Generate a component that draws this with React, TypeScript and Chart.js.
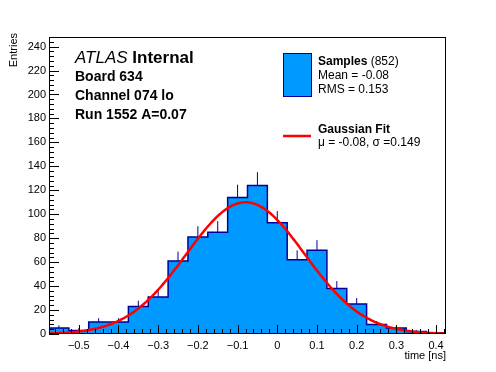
import React, { useEffect, useRef } from "react";
import { Chart, registerables } from "chart.js";

Chart.register(...registerables);

// ---- data ----
const binLow = -0.575;
const binWidth = 0.05;
const binCounts = [5, 3, 10, 10, 23, 31, 61, 81, 85, 114, 124, 93, 62, 70, 38, 25, 8, 5, 2, 1];
const xTickValues = [-0.5, -0.4, -0.3, -0.2, -0.1, 0, 0.1, 0.2, 0.3, 0.4];
const yTickValues = [0, 20, 40, 60, 80, 100, 120, 140, 160, 180, 200, 220, 240];
const xMin = -0.575;
const xMax = 0.425;
const yMin = 0;
const yMax = 248;
const fitMean = -0.08;
const fitSigma = 0.149;
const fitConstant = 110;
const infoLines = ["Board 634", "Channel 074 lo", "Run 1552 A=0.07"];
const sampleEntries = "(852)";
const sampleStats = ["Mean = -0.08", "RMS = 0.153"];
const fitLabel = "\u03bc = -0.08, \u03c3 =0.149";
const xTitle = "time [ns]";
const yTitle = "Entries";

const FONT = "'Liberation Sans', Arial, Helvetica, sans-serif";
const FILL = "#0099ff";
const EDGE = "#000099";

export default function App() {
  const ref = useRef<HTMLCanvasElement | null>(null);

  useEffect(() => {
    const canvas = ref.current;
    if (!canvas) return;

    const histData: { x: number; y: number }[] = [{ x: binLow, y: 0 }];
    binCounts.forEach((c, i) => histData.push({ x: binLow + i * binWidth, y: c }));
    const histHigh = binLow + binCounts.length * binWidth;
    histData.push({ x: histHigh, y: binCounts[binCounts.length - 1] });
    histData.push({ x: histHigh, y: 0 });

    const errData: { x: number; y: number | null }[] = [];
    binCounts.forEach((c, i) => {
      const cx = binLow + (i + 0.5) * binWidth;
      errData.push({ x: cx, y: c });
      errData.push({ x: cx, y: c + Math.sqrt(c) });
      errData.push({ x: cx, y: null });
    });

    const fitData: { x: number; y: number }[] = [];
    const nFit = 300;
    for (let i = 0; i <= nFit; i++) {
      const x = xMin + ((xMax - xMin) * i) / nFit;
      const z = (x - fitMean) / fitSigma;
      fitData.push({ x, y: fitConstant * Math.exp(-0.5 * z * z) });
    }

    const decor = {
      id: "rootDecor",
      afterDatasetsDraw(chart: any) {
        const { ctx, chartArea: a, scales } = chart;
        const xs = scales.x;
        const ys = scales.y;
        ctx.save();
        ctx.strokeStyle = "#000";
        ctx.lineWidth = 1;
        // frame
        ctx.strokeRect(a.left + 0.5, a.top + 0.5, a.right - a.left - 1, a.bottom - a.top - 1);
        ctx.beginPath();
        // y ticks (inward)
        const yStep = 20 / 5;
        for (let v = yMin; v <= yMax + 1e-9; v += yStep) {
          const major = Math.abs(v / 20 - Math.round(v / 20)) < 1e-6;
          const py = Math.round(ys.getPixelForValue(v)) + 0.5;
          ctx.moveTo(a.left, py);
          ctx.lineTo(a.left + (major ? 10 : 5), py);
        }
        // x ticks (inward)
        const xStep = 0.1 / 5;
        const startK = Math.ceil(xMin / xStep - 1e-6);
        const endK = Math.floor(xMax / xStep + 1e-6);
        for (let k = startK; k <= endK; k++) {
          const v = k * xStep;
          const major = k % 5 === 0;
          const px = Math.round(xs.getPixelForValue(v)) + 0.5;
          ctx.moveTo(px, a.bottom);
          ctx.lineTo(px, a.bottom - (major ? 9 : 5));
        }
        ctx.stroke();
        ctx.restore();
      },
      afterDraw(chart: any) {
        const { ctx, chartArea: a } = chart;
        ctx.save();
        ctx.fillStyle = "#000";
        ctx.textBaseline = "alphabetic";
        // axis titles
        ctx.font = `11px ${FONT}`;
        ctx.textAlign = "right";
        ctx.fillText(xTitle, a.right, 359);
        ctx.save();
        ctx.translate(17, 33);
        ctx.rotate(-Math.PI / 2);
        ctx.textAlign = "right";
        ctx.fillText(yTitle, 0, 0);
        ctx.restore();

        // ATLAS label
        ctx.textAlign = "left";
        ctx.font = `italic 17px ${FONT}`;
        ctx.fillText("ATLAS", 75, 63);
        const w = ctx.measureText("ATLAS ").width;
        ctx.font = `bold 17px ${FONT}`;
        ctx.fillText("Internal", 75 + w, 63);
        ctx.font = `bold 14px ${FONT}`;
        infoLines.forEach((t, i) => ctx.fillText(t, 75, 81 + i * 19));

        // legend
        ctx.fillStyle = FILL;
        ctx.fillRect(283, 53, 28, 44);
        ctx.strokeStyle = EDGE;
        ctx.lineWidth = 1;
        ctx.strokeRect(283.5, 53.5, 28, 43);
        ctx.fillStyle = "#000";
        ctx.font = `bold 12px ${FONT}`;
        ctx.fillText("Samples", 318, 65);
        const sw = ctx.measureText("Samples ").width;
        ctx.font = `12px ${FONT}`;
        ctx.fillText(sampleEntries, 318 + sw, 65);
        sampleStats.forEach((t, i) => ctx.fillText(t, 318, 79 + i * 14));

        ctx.strokeStyle = "#ff0000";
        ctx.lineWidth = 2.5;
        ctx.beginPath();
        ctx.moveTo(283, 136);
        ctx.lineTo(311, 136);
        ctx.stroke();
        ctx.font = `bold 12px ${FONT}`;
        ctx.fillText("Gaussian Fit", 318, 132.5);
        ctx.font = `12px ${FONT}`;
        ctx.fillText(fitLabel, 318, 145.5);
        ctx.restore();
      },
    };

    const chart = new Chart(canvas, {
      type: "line",
      data: {
        datasets: [
          {
            label: "Gaussian Fit",
            data: fitData,
            borderColor: "#ff0000",
            borderWidth: 2.5,
            pointRadius: 0,
            fill: false,
            tension: 0,
            order: 0,
          },
          {
            label: "errors",
            data: errData as any,
            borderColor: EDGE,
            borderWidth: 1,
            pointRadius: 0,
            fill: false,
            spanGaps: false,
            order: 1,
          },
          {
            label: "Samples",
            data: histData,
            borderColor: EDGE,
            backgroundColor: FILL,
            borderWidth: 1.5,
            pointRadius: 0,
            stepped: "before",
            fill: "origin",
            order: 2,
          },
        ],
      },
      options: {
        responsive: false,
        animation: false,
        devicePixelRatio: 1,
        events: [],
        layout: { padding: { left: 0, top: 37, right: 50, bottom: 0 } },
        plugins: {
          legend: { display: false },
          tooltip: { enabled: false },
          title: { display: false },
        },
        scales: {
          x: {
            type: "linear",
            min: xMin,
            max: xMax,
            grid: { display: false, drawTicks: false },
            border: { display: false },
            afterBuildTicks: (s: any) => {
              s.ticks = xTickValues.map((v) => ({ value: v }));
            },
            afterFit: (s: any) => {
              s.height = 38;
            },
            ticks: {
              color: "#000",
              padding: 5,
              maxRotation: 0,
              autoSkip: false,
              font: { family: FONT, size: 11 },
              callback: (v: any) => {
                const n = Math.round(Number(v) * 10) / 10;
                return n < 0 ? "\u2212" + Math.abs(n) : String(n);
              },
            },
          },
          y: {
            type: "linear",
            min: yMin,
            max: yMax,
            grid: { display: false, drawTicks: false },
            border: { display: false },
            afterBuildTicks: (s: any) => {
              s.ticks = yTickValues.map((v) => ({ value: v }));
            },
            afterFit: (s: any) => {
              s.width = 49;
            },
            ticks: {
              color: "#000",
              padding: 3,
              autoSkip: false,
              font: { family: FONT, size: 11 },
              callback: (v: any) => String(Math.round(Number(v))),
            },
          },
        },
      },
      plugins: [decor],
    });

    return () => chart.destroy();
  }, []);

  return (
    <div style={{ position: "fixed", left: 0, top: 0, width: 496, height: 372, background: "#fff" }}>
      <canvas ref={ref} width={496} height={372} style={{ display: "block", width: 496, height: 372 }} />
    </div>
  );
}
